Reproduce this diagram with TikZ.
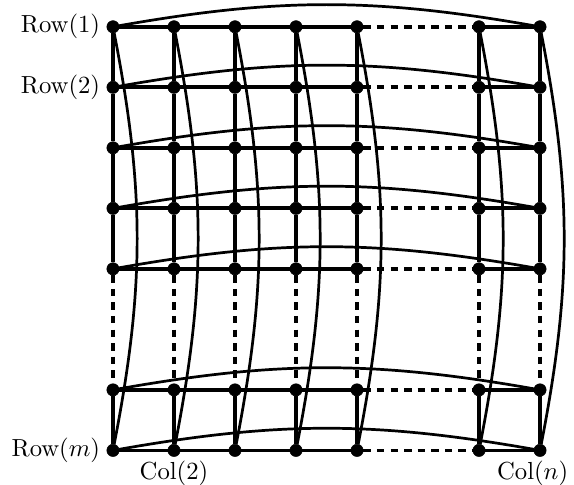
\documentclass[tikz,border=0pt]{standalone}
\begin{document}
\begin{tikzpicture}[x=0.869cm, y=0.862cm,
	vertex/.style={ circle, draw, very thin, fill, inner sep=0pt, minimum size=5pt },
	edge/.style={ line width=1.5pt },
	gap/.style={ line width=1.5pt, dash pattern=on 3pt off 2.5pt },
	wrap/.style={ line width=1.1pt },
	tag/.style={ inner sep=1.5pt }
]
\useasboundingbox (-1.852,0.443) rectangle (7.557,-7.565);

% grid of processors
\foreach \r/\y in {1/0,2/1,3/2,4/3,5/4,6/6,7/7}
	\foreach \c/\x in {1/0,2/1,3/2,4/3,5/4,6/6,7/7}
		\node at (\x,-\y) (v\r\c) [vertex] {};

\node at (v11) [label={[tag,name=row1]left:{Row(1)}}] {};
\node at (v21) [label={[tag,name=row2]left:{Row(2)}}] {};
\node at (v71) [label={[tag,name=rowm]left:{Row($m$)}}] {};
\node at (v72) [label={[tag,name=col2,inner sep=0.5pt]below:{Col(2)}}] {};
\node at (v77) [label={[tag,name=coln,inner sep=0.5pt,xshift=-3pt]below:{Col($n$)}}] {};

% rows
\foreach \r in {1,...,7} {
	\foreach \a/\b in {1/2,2/3,3/4,4/5,6/7} \draw[edge] (v\r\a) to (v\r\b);
	\draw[gap] (v\r5) to (v\r6);
	\draw[wrap] (v\r1) to [out=10,in=170] (v\r7);
}
% columns
\foreach \c in {1,...,7} {
	\foreach \a/\b in {1/2,2/3,3/4,4/5,6/7} \draw[edge] (v\a\c) to (v\b\c);
	\draw[gap] (v5\c) to (v6\c);
	\draw[wrap] (v1\c) to [out=-79,in=79] (v7\c);
}

\end{tikzpicture}
\end{document}
